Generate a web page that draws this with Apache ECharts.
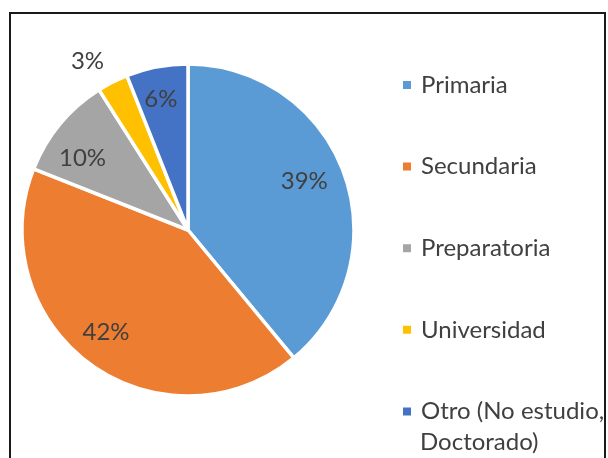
<!DOCTYPE html>
<html lang="es">
<head>
<meta charset="UTF-8">
<title>Escolaridad</title>
<script src="https://cdn.jsdelivr.net/npm/echarts@6/dist/echarts.min.js"></script>
<style>
    html, body { margin: 0; padding: 0; background: #fff; }
    #chart { width: 608px; height: 458px; }
</style>
</head>
<body>
<div id="chart"></div>
<script>
    // data (percent of people per level)
    const categories = ['Primaria', 'Secundaria', 'Preparatoria', 'Universidad', 'Otro (No estudio, Doctorado)'];
    const percentages = [39, 42, 10, 3, 6];
    const sliceColors = ['#5B9BD5', '#ED7D31', '#A5A5A5', '#FFC000', '#4472C4'];

    const FONT = 'Lato';
    const TEXT_COLOR = '#404040';
    const LINE_H = 31;
    const LEGEND_TOP = 69.5;
    const LEGEND_STEP = 81.6;

    // small nudges so the labels sit where Excel put them
    const labelNudge = { 0: [-7, -4.5], 1: [-5, -4], 2: [-4.5, 12], 3: [-41, -52], 4: [-2.5, -2.5] };

    const pieData = categories.map((name, i) => ({
        name: name,
        value: percentages[i],
        itemStyle: { color: sliceColors[i] }
    }));

    const labelData = categories.map((name, i) => ({ name: name, value: percentages[i] }));

    // the last legend entry wraps; the first line goes in the legend, the rest under it
    const lastName = categories[categories.length - 1];
    const wrapAt = lastName.indexOf(', ') + 1;

    const chart = echarts.init(document.getElementById('chart'));
    chart.setOption({
        animation: false,
        backgroundColor: '#fff',
        legend: {
            orient: 'vertical',
            left: 401,
            top: LEGEND_TOP,
            padding: 0,
            itemWidth: 10,
            itemHeight: 10,
            itemGap: LEGEND_STEP - LINE_H,
            icon: 'rect',
            selectedMode: false,
            data: categories,
            formatter: name => name === lastName ? name.slice(0, wrapAt) : name,
            textStyle: {
                fontFamily: FONT,
                fontSize: 24,
                color: TEXT_COLOR,
                lineHeight: LINE_H,
                padding: [0, 0, 0, 4]
            }
        },
        series: [
            {
                type: 'pie',
                center: [188, 230],
                radius: 166,
                startAngle: 90,
                clockwise: true,
                silent: true,
                label: { show: false },
                labelLine: { show: false },
                itemStyle: { borderColor: '#fff', borderWidth: 3.5 },
                data: pieData
            },
            {
                // transparent ring only used to place the percent labels
                type: 'pie',
                center: [188, 230],
                radius: [96, 160],
                startAngle: 90,
                clockwise: true,
                silent: true,
                itemStyle: { color: 'rgba(0,0,0,0)' },
                label: {
                    show: true,
                    position: 'inside',
                    formatter: '{c}%',
                    fontFamily: FONT,
                    fontSize: 24,
                    color: TEXT_COLOR
                },
                labelLine: { show: false },
                labelLayout: params => {
                    const n = labelNudge[params.dataIndex];
                    return n ? { dx: n[0], dy: n[1] } : {};
                },
                data: labelData
            }
        ],
        graphic: [
            {
                type: 'text',
                silent: true,
                left: 420,
                top: LEGEND_TOP + 4 * LEGEND_STEP + LINE_H,
                style: {
                    text: lastName.slice(wrapAt + 1),
                    font: '24px ' + FONT,
                    fill: TEXT_COLOR,
                    lineHeight: LINE_H
                }
            },
            {
                type: 'rect',
                silent: true,
                z: 100,
                shape: { x: 10, y: 13, width: 595, height: 470 },
                style: { fill: 'none', stroke: '#1a1a1a', lineWidth: 2 }
            }
        ]
    });
</script>
</body>
</html>
